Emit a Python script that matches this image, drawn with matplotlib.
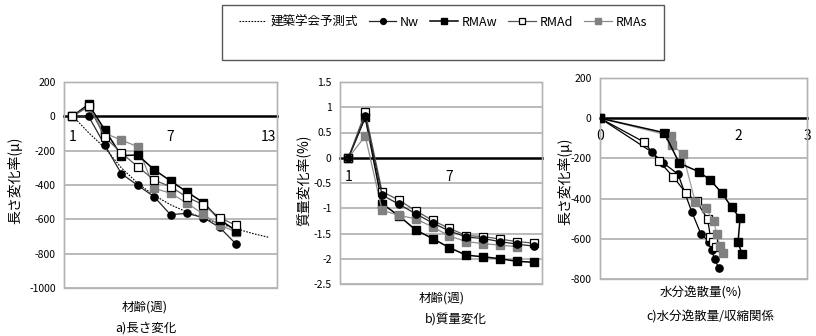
import matplotlib
matplotlib.use('Agg')
import matplotlib.pyplot as plt
from matplotlib.lines import Line2D
from matplotlib.patches import Rectangle

plt.rcParams['font.family'] = ['Noto Sans CJK JP', 'DejaVu Sans']

# ---- data: a) length change (weeks) ----
weeks_a = [1, 2, 3, 4, 5, 6, 7, 8, 9, 10, 11]
nw_a = [0, 0, -169, -334, -402, -468, -573, -565, -590, -647, -744]
rmaw_a = [0, 70, -80, -229, -225, -311, -376, -440, -502, -602, -666]
rmad_a = [0, 60, -122, -213, -293, -371, -410, -470, -515, -590, -635]
rmas_a = [0, 55, -99, -138, -177, -419, -448, -505, -570, -635, -672]
pred_weeks = [1.3, 2, 3, 4, 5, 6, 7, 8, 9, 10, 11, 12, 13]
pred_a = [-25, -95, -185, -300, -390, -460, -515, -557, -592, -625, -655, -682, -705]

# ---- data: b) mass change ----
weeks_b = [1, 2, 3, 4, 5, 6, 7, 8, 9, 10, 11, 12]
nw_b = [0, 0.82, -0.74, -0.92, -1.11, -1.29, -1.45, -1.57, -1.60, -1.66, -1.71, -1.75]
rmaw_b = [0, 0.80, -0.91, -1.15, -1.43, -1.60, -1.78, -1.93, -1.96, -2.00, -2.05, -2.07]
rmad_b = [0, 0.90, -0.67, -0.84, -1.05, -1.24, -1.40, -1.54, -1.56, -1.61, -1.66, -1.69]
weeks_b_s = [1, 2, 3, 4, 5, 6, 7, 8, 9, 10, 11]
rmas_b = [0, 0.43, -1.04, -1.14, -1.21, -1.37, -1.55, -1.66, -1.70, -1.73, -1.76]

# ---- data: c) moisture loss vs shrinkage ----
nw_cx = [0, 0.75, 0.92, 1.13, 1.33, 1.46, 1.58, 1.62, 1.66, 1.72]
nw_cy = [0, -168, -223, -278, -466, -574, -615, -657, -702, -744]
rmaw_cx = [0, 0.93, 1.15, 1.43, 1.60, 1.77, 1.91, 2.03, 2.00, 2.06]
rmaw_cy = [0, -72, -224, -266, -308, -374, -444, -498, -618, -676]
rmad_cx = [0, 0.64, 0.85, 1.06, 1.25, 1.40, 1.56, 1.60, 1.64, 1.68]
rmad_cy = [0, -119, -212, -291, -374, -414, -503, -590, -615, -640]
rmas_cx = [0, 1.03, 1.05, 1.20, 1.38, 1.53, 1.65, 1.69, 1.74, 1.78]
rmas_cy = [0, -89, -135, -178, -415, -449, -511, -576, -636, -669]

W, H = 816, 336
fig = plt.figure(figsize=(W / 100, H / 100), dpi=100)

GRID = '#b4b4b4'
NW = dict(color='#262626', lw=0.9, marker='o', ms=5.2, mfc='black', mec='black')
RMAW = dict(color='black', lw=1.1, marker='s', ms=5.5, mfc='black', mec='black')
RMAD = dict(color='#595959', lw=0.9, marker='s', ms=5.5, mfc='white', mec='black', mew=0.9)
RMAS = dict(color='#8c8c8c', lw=0.9, marker='s', ms=5.5, mfc='#808080', mec='#808080')


def px_axes(left, right, top, bottom):
    return fig.add_axes([left / W, 1 - bottom / H, (right - left) / W, (bottom - top) / H])


def style(ax, yticks, xticks, ylim, xlim, pad):
    ax.set_ylim(*ylim)
    ax.set_xlim(*xlim)
    ax.set_yticks(yticks)
    ax.set_yticklabels(['%g' % v for v in yticks], fontsize=7.5)
    ax.set_xticks(xticks)
    ax.set_xticklabels(['%g' % v for v in xticks], fontsize=7.5)
    for v in yticks:
        if v != 0:
            ax.axhline(v, color=GRID, lw=1.3, zorder=0)
    for s in ['top', 'left', 'right']:
        ax.spines[s].set_color(GRID)
        ax.spines[s].set_linewidth(1.0)
    ax.spines['bottom'].set_position(('data', 0))
    ax.spines['bottom'].set_color('black')
    ax.spines['bottom'].set_linewidth(1.8)
    ax.spines['bottom'].set_zorder(1)
    ax.add_patch(Rectangle((0, 0), 1, 1, transform=ax.transAxes, fill=False,
                           edgecolor=GRID, lw=1.0, clip_on=False, zorder=0))
    ax.tick_params(axis='y', length=0, pad=6)
    ax.tick_params(axis='x', length=0, pad=pad)


# a) length change
ax = px_axes(64, 277, 82, 288)
ax.plot(pred_weeks, pred_a, color='black', lw=0.8, ls=(0, (1.5, 1.2)), zorder=2)
ax.plot(weeks_a, nw_a, **NW, zorder=3)
ax.plot(weeks_a, rmas_a, **RMAS, zorder=4)
ax.plot(weeks_a, rmad_a, **RMAD, zorder=5)
ax.plot(weeks_a, rmaw_a, **RMAW, zorder=4)
style(ax, [-1000, -800, -600, -400, -200, 0, 200], [1, 7, 13], (-1000, 200), (0.5, 13.5), 10)

# b) mass change
ax = px_axes(340, 542, 82, 284)
ax.plot(weeks_b, rmaw_b, **RMAW, zorder=3)
ax.plot(weeks_b_s, rmas_b, **RMAS, zorder=4)
ax.plot(weeks_b, rmad_b, **RMAD, zorder=4)
ax.plot(weeks_b, nw_b, **NW, zorder=5)
style(ax, [-2.5, -2, -1.5, -1, -0.5, 0, 0.5, 1, 1.5], [1, 7], (-2.5, 1.5), (0.5, 12.5), 9)

# c) moisture loss / shrinkage
ax = px_axes(600, 807, 78, 279)
nw_c = dict(NW, color='black')
rmad_c = dict(RMAD, color='black')
rmas_c = dict(RMAS, color='#a0a0a0')
ax.plot(nw_cx, nw_cy, **nw_c, zorder=3)
ax.plot(rmad_cx, rmad_cy, **rmad_c, zorder=4)
ax.plot(rmas_cx, rmas_cy, **rmas_c, zorder=5)
ax.plot(rmaw_cx, rmaw_cy, **RMAW, zorder=6)
style(ax, [-800, -600, -400, -200, 0, 200], [0, 1, 2, 3], (-800, 200), (0, 3), 8)
for lbl in ax.get_xticklabels():
    lbl.set_clip_on(False)

# axis titles and captions
def ftext(x, y, s, **kw):
    fig.text(x / W, 1 - y / H, s, ha='center', va='center', **kw)

ftext(15, 180, '長さ変化率(μ)', rotation=90, fontsize=10)
ftext(145, 307, '材齢(週)', fontsize=9)
ftext(146, 328, 'a)長さ変化', fontsize=9)
ftext(303, 180, '質量変化率(%)', rotation=90, fontsize=10)
ftext(442, 298, '材齢(週)', fontsize=9)
ftext(456, 320, 'b)質量変化', fontsize=9)
ftext(565, 181, '長さ変化率(μ)', rotation=90, fontsize=10)
ftext(701, 293, '水分逸散量(%)', fontsize=9)
ftext(710, 317, 'c)水分逸散量/収縮関係', fontsize=9)

# legend box
fig.patches.append(Rectangle((222 / W, 1 - 60 / H), (664 - 222) / W, 55 / H,
                             transform=fig.transFigure, fill=False,
                             edgecolor='#595959', lw=1.0))
handles = [
    Line2D([], [], color='black', lw=0.8, ls=(0, (1.5, 1.2))),
    Line2D([], [], **NW),
    Line2D([], [], **RMAW),
    Line2D([], [], **RMAD),
    Line2D([], [], **RMAS),
]
labels = ['建築学会予測式', 'Nw', 'RMAw', 'RMAd', 'RMAs']
fig.legend(handles, labels, loc='center', bbox_to_anchor=(443 / W, 1 - 22 / H),
           ncol=5, frameon=False, fontsize=9, handlelength=2.2, handletextpad=0.3,
           columnspacing=0.9, markerscale=0.8)

fig.savefig('out.png', dpi=100)
